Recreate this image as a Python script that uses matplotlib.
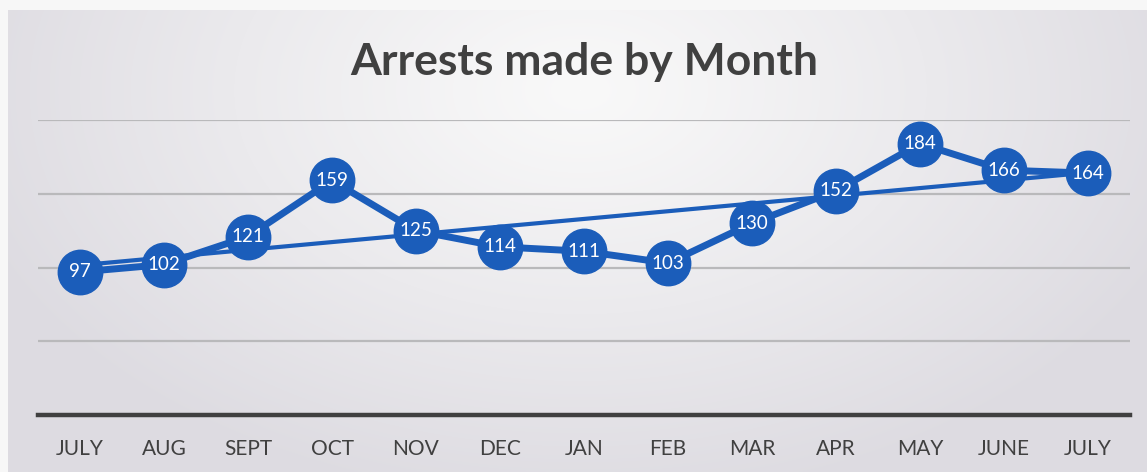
import numpy as np
import matplotlib
matplotlib.use("Agg")
import matplotlib.pyplot as plt

months = ["JULY", "AUG", "SEPT", "OCT", "NOV", "DEC", "JAN", "FEB",
          "MAR", "APR", "MAY", "JUNE", "JULY"]
arrests = [97, 102, 121, 159, 125, 114, 111, 103, 130, 152, 184, 166, 164]
grid_vals = [50, 100, 150, 200]

BLUE = "#1b5dba"
DARK = "#404040"
plt.rcParams["font.family"] = ["Lato", "DejaVu Sans"]

W, H = 1147, 472
fig = plt.figure(figsize=(W / 100, H / 100), dpi=100)

# scanned-paper background: grey with a lighter centre near the title
bg = fig.add_axes([0, 0, 1, 1], zorder=-10)
yy, xx = np.mgrid[0:H, 0:W]
r = np.sqrt(((xx - 580) / 650.0) ** 2 + ((yy - 90) / 420.0) ** 2)
t = np.clip(r, 0, 1) ** 1.1
edge = np.array([221, 219, 225]) / 255.0
centre = np.array([249, 249, 249]) / 255.0
img = centre[None, None, :] * (1 - t[..., None]) + edge[None, None, :] * t[..., None]
img[:10, :, :] = 0.97
img[:, :8, :] = 0.97
bg.imshow(img, aspect="auto", interpolation="bilinear")
bg.axis("off")

ax = fig.add_axes([38 / W, 1 - 415 / H, (1130 - 38) / W, (415 - 120) / H])
ax.set_facecolor("none")
x = np.arange(len(arrests))

for g in grid_vals:
    ax.axhline(g, color="#b9b9bb", lw=1.6, zorder=1)

ax.plot(x, arrests, color=BLUE, lw=5, marker="o", ms=32,
        markerfacecolor=BLUE, markeredgecolor=BLUE, zorder=3)

# linear trendline
k, b = np.polyfit(x, arrests, 1)
ax.plot([x[0], x[-1]], [k * x[0] + b, k * x[-1] + b], color=BLUE, lw=3, zorder=4)

for xi, v in zip(x, arrests):
    ax.text(xi, v, str(v), color="white", fontsize=13.5, ha="center",
            va="center", zorder=5)

ax.set_xlim(-0.5, len(arrests) - 0.5)
ax.set_ylim(0, 200)
ax.set_xticks(x)
ax.set_xticklabels(months, fontsize=15, color=DARK)
ax.set_yticks([])
ax.tick_params(axis="x", length=0, pad=17)
for s in ("top", "left", "right"):
    ax.spines[s].set_visible(False)
ax.spines["bottom"].set_color(DARK)
ax.spines["bottom"].set_linewidth(3.2)

fig.text(584 / W, 1 - 75 / H, "Arrests made by Month", fontsize=32,
         fontweight="bold", color=DARK, ha="center", va="baseline")

fig.savefig("out.png", dpi=100)
